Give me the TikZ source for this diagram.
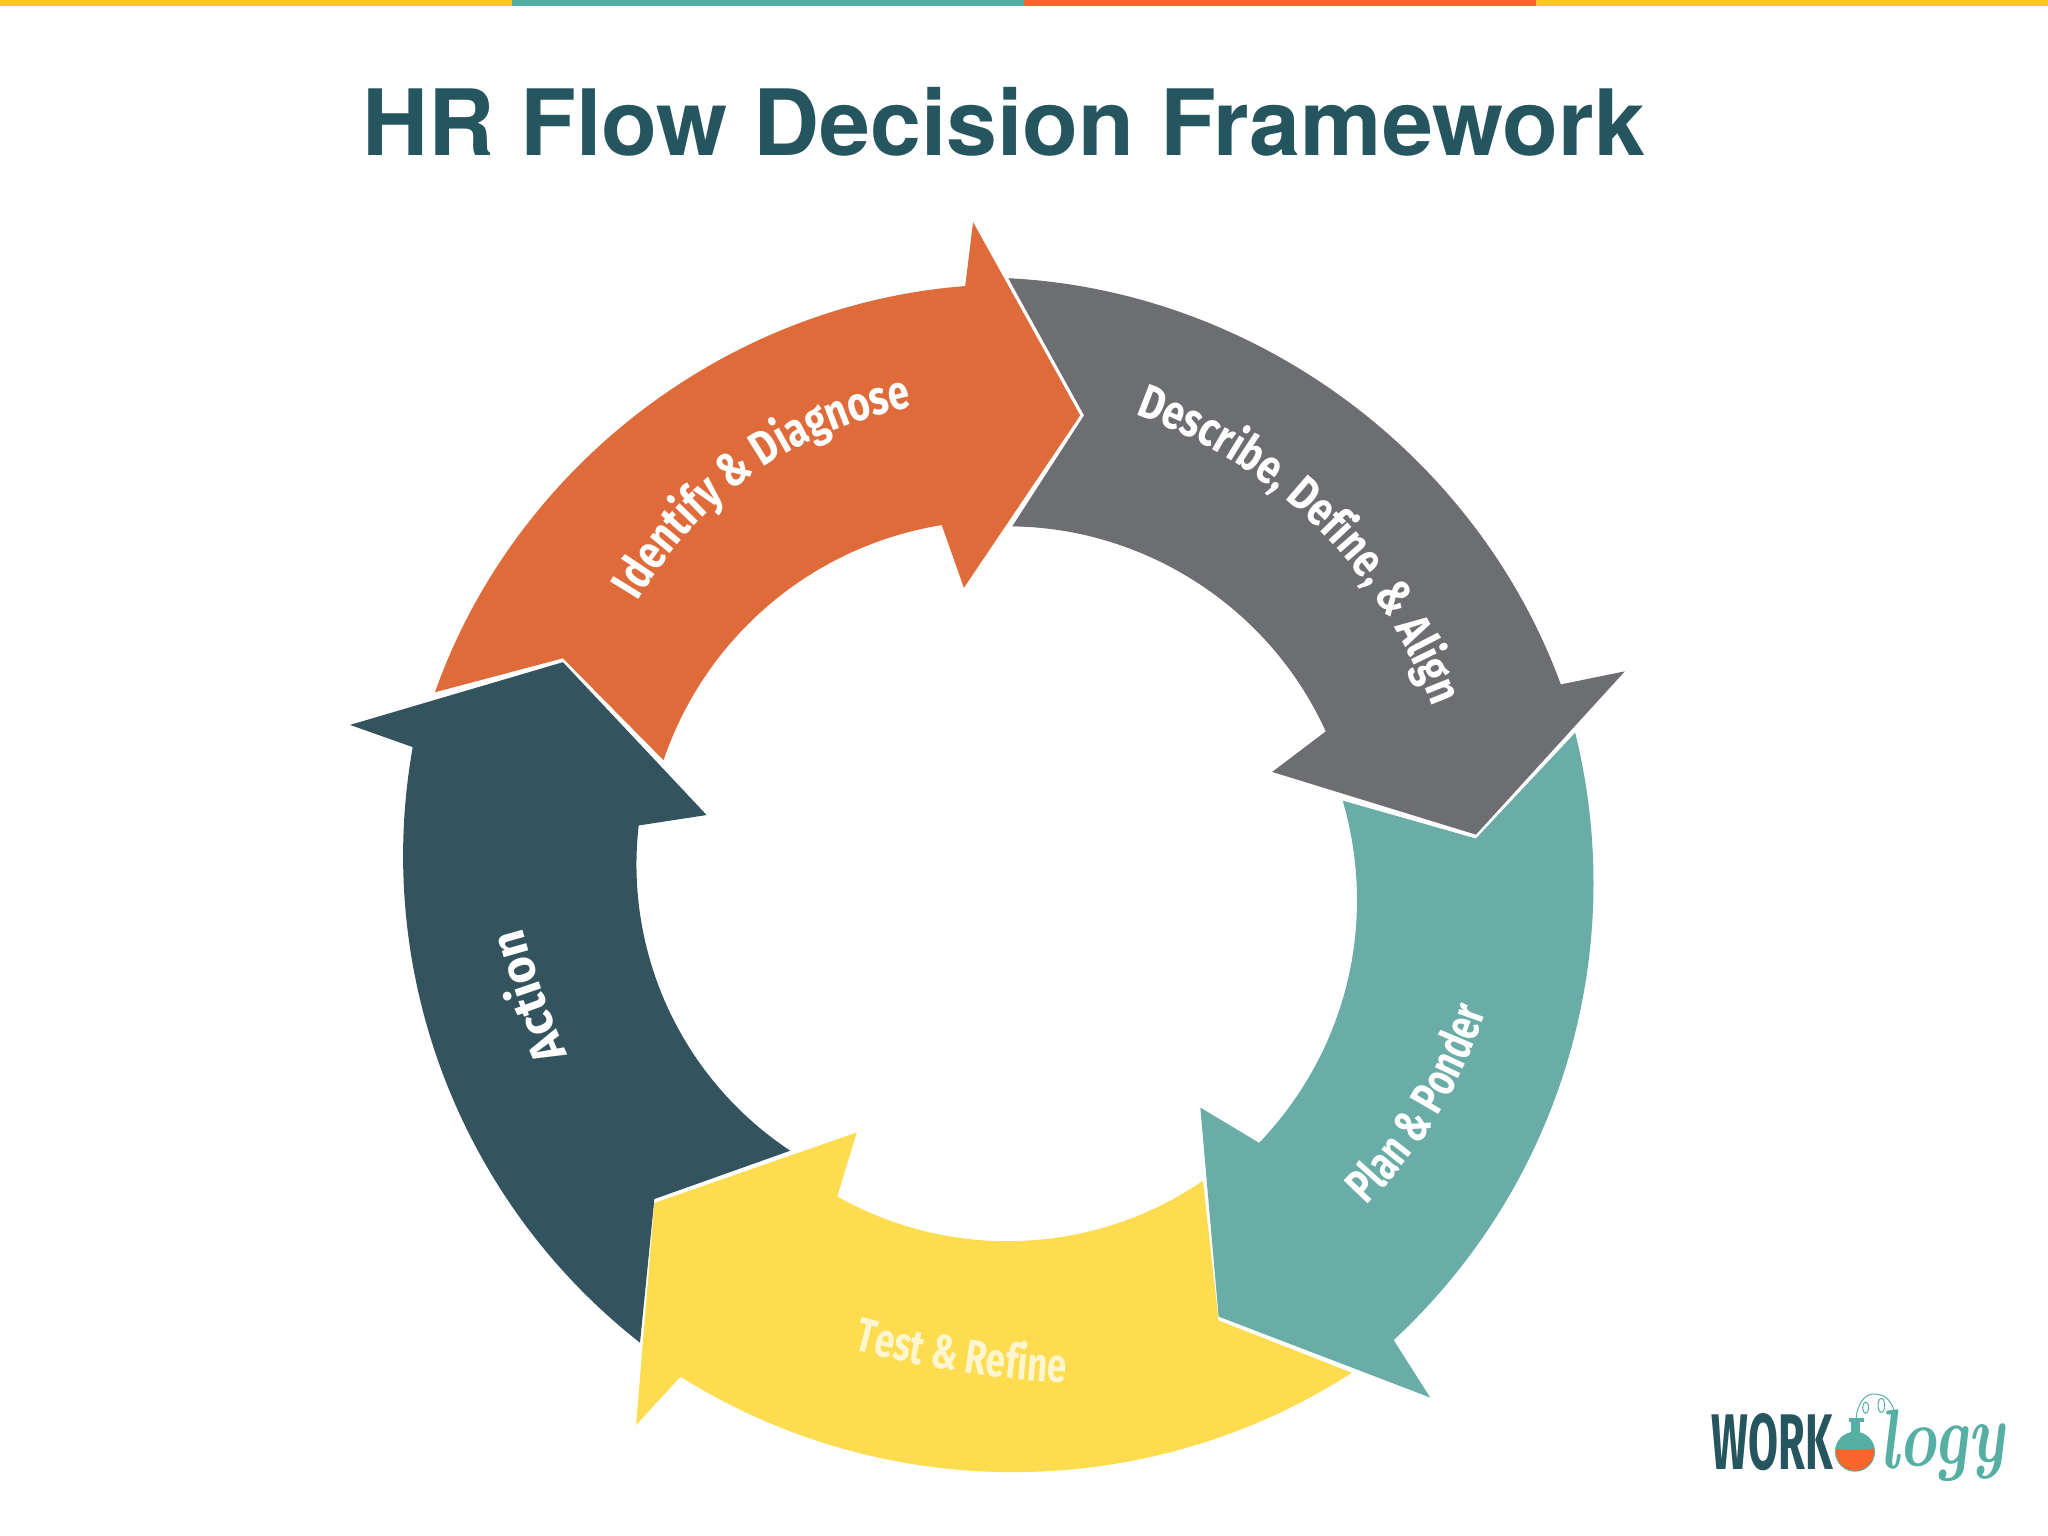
\documentclass[tikz,border=0pt]{standalone}
\usepackage{fontspec}
\usetikzlibrary{decorations.text}
\newfontfamily\titlefont{TeX Gyre Heros}
\newfontfamily\lblA[FakeStretch=0.80]{Fira Sans Bold}
\newfontfamily\lblB[FakeStretch=0.73]{Fira Sans Bold}
\newfontfamily\lblC[FakeStretch=0.97]{Fira Sans Bold}
\newfontfamily\workfont{Fira Sans Bold}
\definecolor{stripY}{HTML}{F8C81C}
\definecolor{stripT}{HTML}{52ADA2}
\definecolor{stripO}{HTML}{F9662B}
\definecolor{titleC}{HTML}{25555F}
\definecolor{cOrange}{HTML}{E06B3A}
\definecolor{cGrey}{HTML}{6D6E71}
\definecolor{cTeal}{HTML}{6AADA6}
\definecolor{cYellow}{HTML}{FDDC50}
\definecolor{cDark}{HTML}{33545E}
\definecolor{cCream}{HTML}{FFF6CF}
\definecolor{logoT}{HTML}{55AFA3}
\tikzset{
  lbl/.style n args={3}{decorate,decoration={text along path,text align=center,text color=#1,
     text={|#2\fontsize{48}{48}\selectfont|#3}}},
  tl/.style={bend left=#1,looseness=.92},
  tr/.style={bend right=#1,looseness=.92},
}
\begin{document}
\begin{tikzpicture}[x=1pt,y=-1pt]
\useasboundingbox (0,0) rectangle (2048,1536);
\fill[white] (0,0) rectangle (2048,1536);
\fill[stripY] (0,0) rectangle (512,6);
\fill[stripT] (512,0) rectangle (1024,6);
\fill[stripO] (1024,0) rectangle (1536,6);
\fill[stripY] (1536,0) rectangle (2048,6);
\node[text=titleC,inner sep=0pt,anchor=base] (title) at (1004,156) {\titlefont\bfseries\fontsize{91.5}{91.5}\selectfont HR Flow Decision Framework};
\begin{scope}[x=1.30612pt,y=-1.30612pt]
\fill[cOrange] (333,530) to[tl=33] (739,219) -- (745,170) -- (827,318) -- (738,450) -- (721,402) to[tr=31] (508,582) -- (431,504) -- cycle;
\fill[cGrey] (772,213) to[tl=33.5] (1195,524) -- (1244,514) -- (1130,639) -- (974,591) -- (1015,560) to[tr=32.5] (775,403) -- (830,318) -- cycle;
\fill[cTeal] (1206,561) to[tl=30.5] (1067,1026) -- (1095,1070) -- (933,1008) -- (919,848) -- (964,875) to[tr=30] (1028,613) -- (1130,642) -- cycle;
\fill[cYellow] (1035,1051) to[tl=32.5] (521,1054) -- (487,1091) -- (501,921) -- (656,867) -- (641,916) to[tr=32] (921,904) -- (933,1011) -- cycle;
\fill[cDark] (490,1028) to[tl=31] (316,572) -- (268,555) -- (431,507) -- (541,624) -- (489,632) to[tr=31.5] (605,881) -- (501,918) -- cycle;
\path[lbl={white}{\lblA}{Identify {\&} Diagnose}] (484,467) to[tl=25] (706,310);
\path[lbl={white}{\lblA}{Describe, Define, {\&} Align}] (860,314) to[tl=26] (1100,550);
\path[lbl={white}{\lblB}{Plan {\&} Ponder}] (1041,928) to[tr=14] (1140,767);
\path[lbl={cCream}{\lblB}{Test {\&} Refine}] (649,1032) to[tr=6] (821,1059);
\path[lbl={white}{\lblC}{Action}] (438,815) to[tl=5] (398,702);
\end{scope}
% logo
\begin{scope}[shift={(1680,1370)},x=.33333pt,y=-.33333pt]
\node[inner sep=0pt,anchor=south west,text=titleC] (work) at (95,302) {\workfont\resizebox{121pt}{56pt}{WORK}};
\draw[logoT,line width=1pt] (528,148) .. controls (530,110) and (550,72) .. (580,72) .. controls (610,72) and (645,85) .. (648,165);
\draw[logoT,line width=1pt] (557,113) ellipse[x radius=9,y radius=17];
\draw[logoT,line width=1pt] (604,106) ellipse[x radius=10,y radius=21];
\fill[logoT] (508,145) rectangle (552,156);
\fill[logoT] (512,145) rectangle (540,190);
\fill[logoT] (525,245) circle[radius=60];
\begin{scope}
\clip (525,245) circle[radius=57];
\fill[stripO] (460,236) .. controls (500,240) and (550,240) .. (590,234) -- (590,310) -- (460,310) -- cycle;
\end{scope}
\node[inner sep=0pt,anchor=base west,text=logoT,rotate=4] (logy) at (600,298) {\scalebox{.84}[1.08]{\bfseries\itshape\fontsize{78}{78}\selectfont logy}};
\end{scope}
\end{tikzpicture}
\end{document}
